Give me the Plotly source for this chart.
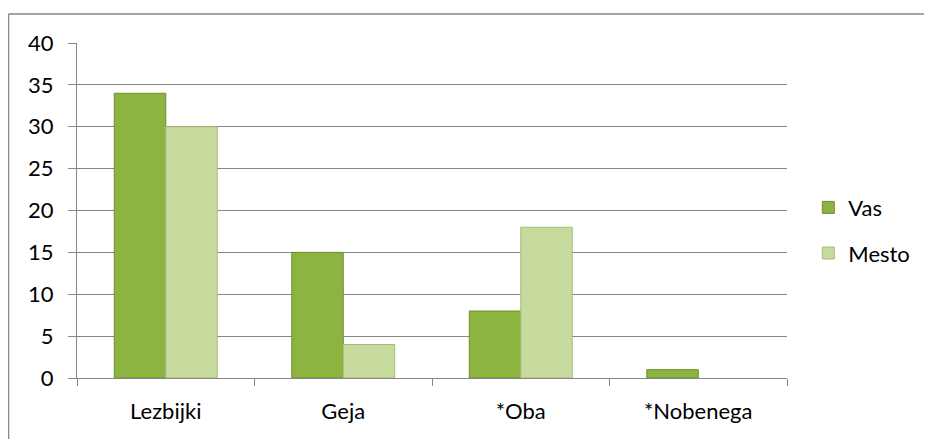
import plotly.graph_objects as go

categories = ["Lezbijki", "Geja", "*Oba", "*Nobenega"]
vas = [34, 15, 8, 1]
mesto = [30, 4, 18, 0]
y_ticks = [0, 5, 10, 15, 20, 25, 30, 35, 40]

# the page puts the figure 8px in from the top-left corner
W, H = 924, 431
L, R, T, B = 69, 145, 35, 61
pw, ph = W - L - R, H - T - B

fig = go.Figure()
fig.add_trace(go.Bar(
    name="Vas", x=categories, y=vas, legendgroup="vas",
    marker=dict(color="#8db341",
                line=dict(color="#6e8f2c", width=[1 if v else 0 for v in vas])),
))
fig.add_trace(go.Bar(
    name="Mesto", x=categories, y=mesto, legendgroup="mesto",
    marker=dict(color="#c6da9d",
                line=dict(color="#a6bd77", width=[1 if v else 0 for v in mesto])),
))

# chart area frame (top and left edges visible in the reference)
x0 = (0.5 - L) / pw
y1 = 1 + (T - 6) / ph
fig.add_shape(type="line", xref="paper", yref="paper", x0=x0, x1=(W + 5 - L) / pw,
              y0=y1, y1=y1, line=dict(color="#878787", width=1.5))
fig.add_shape(type="line", xref="paper", yref="paper", x0=x0, x1=x0,
              y0=y1, y1=-(B + 5) / ph, line=dict(color="#878787", width=1.5))

font = dict(family="Lato, Open Sans, sans-serif", size=22, color="#000000")

fig.update_layout(
    width=W, height=H,
    margin=dict(l=L, r=R, t=T, b=B),
    paper_bgcolor="white", plot_bgcolor="white",
    barmode="group", bargap=0.42, bargroupgap=0,
    font=font,
    showlegend=True,
    legend=dict(x=1.03, y=0.44, yanchor="middle", xanchor="left",
                font=dict(size=22), itemwidth=30, tracegroupgap=14,
                bgcolor="rgba(0,0,0,0)"),
)
fig.update_xaxes(
    type="category", tickson="boundaries", ticks="outside", ticklen=7,
    tickcolor="#878787", showline=True, linecolor="#878787", linewidth=1.3,
    showgrid=False, tickfont=font, ticklabelstandoff=13,
)
fig.update_yaxes(
    range=[0, 40], tickvals=y_ticks, ticks="outside", ticklen=8,
    tickcolor="#878787", showline=True, linecolor="#878787", linewidth=1.3,
    showgrid=True, gridcolor="#878787", gridwidth=1.3, zeroline=False,
    tickfont=font, ticklabelstandoff=10,
)

fig.write_html("out.html")
